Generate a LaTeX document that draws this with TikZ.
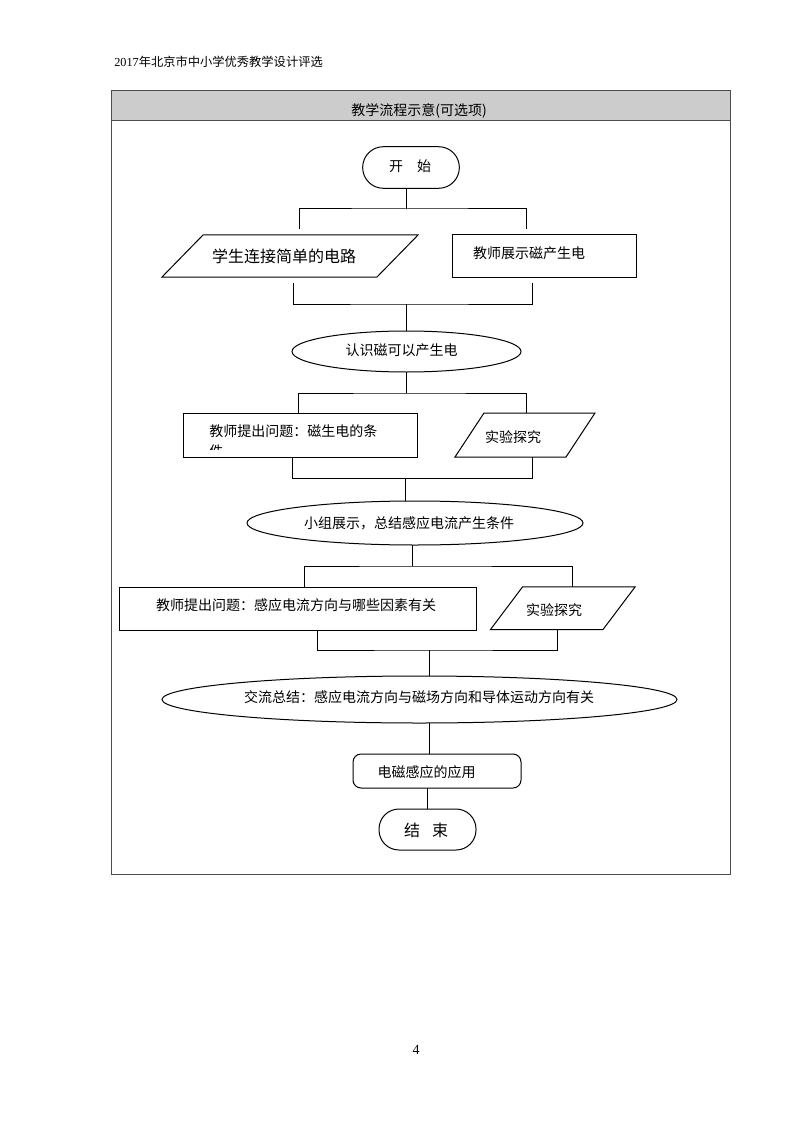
\documentclass[tikz,border=0pt]{standalone}
\usepackage{fontspec}
\setmainfont{Noto Sans CJK SC}
\newfontfamily\latin{Liberation Serif}
\usetikzlibrary{calc,shapes.geometric}
\tikzset{
  ln/.style={draw=black, line width=0.75pt},
  frm/.style={draw=black!70, line width=0.75pt},
  shp/.style={inner sep=0pt, outer sep=0pt},
  rbox/.style={shp, rectangle, draw=black, line width=0.75pt},
  ebox/.style={shp, ellipse, draw=black, line width=0.75pt},
  pbox/.style={shp, rectangle},
  txt/.style={inner sep=0pt, font=\fontsize{10.5pt}{12pt}\selectfont},
  bigtxt/.style={inner sep=0pt, font=\fontsize{12pt}{14pt}\selectfont},
}
\begin{document}
\begin{tikzpicture}[x=0.75pt, y=-0.75pt]
\useasboundingbox (0,0) rectangle (794,1123);

% page header and number
\node[inner sep=0pt, anchor=west, font=\fontsize{9.2pt}{11pt}\selectfont] (hdr) at (114,62) {{\latin 2017}年北京市中小学优秀教学设计评选};
\node[inner sep=0pt, font=\fontsize{10.5pt}{12pt}\selectfont\latin] (pg) at (416,1050) {4};

% frame and title bar
\fill[black!20] (111,91) rectangle (730,121);
\draw[frm] (111,91) rectangle (730,874);
\draw[frm] (111,121) -- (730,121);
\node[txt] (title) at (419,110.5) {教学流程示意(可选项)};

% shapes
\node[rbox, rounded corners=15.5pt, minimum width=72.5pt, minimum height=31.2pt] (start) at (411,167.5) {};
\node[txt] (tstart) at (410,166.5) {开　始};

\node[pbox, minimum width=192pt, minimum height=31.5pt] (p1) at (290,256) {};
\draw[ln] ([xshift=30.75pt]p1.north west) -- (p1.north east) -- ([xshift=-30.75pt]p1.south east) -- (p1.south west) -- cycle;
\node[bigtxt] (tp1) at (284,256) {学生连接简单的电路};

\node[rbox, minimum width=138pt, minimum height=31.5pt] (r1) at (544,256) {};
\node[txt] (tr1) at (529,253.5) {教师展示磁产生电};

\node[ebox, minimum width=171.75pt, minimum height=30.75pt] (e1) at (406.5,351.5) {};
\node[txt] (te1) at (401.5,350.5) {认识磁可以产生电};

\node[rbox, minimum width=175.5pt, minimum height=33pt] (r2) at (300,435) {};
\node[txt, anchor=west] (tr2) at (209,431) {教师提出问题：磁生电的条};
\begin{scope}
  \clip (185,441) rectangle (415,449);
  \node[txt, anchor=west] (tr2b) at (209,451) {件};
\end{scope}

\node[pbox, minimum width=105pt, minimum height=33pt] (p2) at (525,435) {};
\draw[ln] ([xshift=21.75pt]p2.north west) -- (p2.north east) -- ([xshift=-21.75pt]p2.south east) -- (p2.south west) -- cycle;
\node[txt] (tp2) at (513,437.5) {实验探究};

\node[ebox, minimum width=252pt, minimum height=33pt] (e2) at (415,523) {};
\node[txt] (te2) at (409,523.3) {小组展示，总结感应电流产生条件};

\node[rbox, minimum width=267.75pt, minimum height=32.25pt] (r3) at (297.5,608.5) {};
\node[txt] (tr3) at (296,605.5) {教师提出问题：感应电流方向与哪些因素有关};

\node[pbox, minimum width=108.4pt, minimum height=31.9pt] (p3) at (562.75,608.25) {};
\draw[ln] ([xshift=24pt]p3.north west) -- (p3.north east) -- ([xshift=-24pt]p3.south east) -- (p3.south west) -- cycle;
\node[txt] (tp3) at (554,610) {实验探究};

\node[ebox, minimum width=386.25pt, minimum height=35.25pt] (e3) at (419.5,699.5) {};
\node[txt] (te3) at (419,697.5) {交流总结：感应电流方向与磁场方向和导体运动方向有关};

\node[rbox, rounded corners=6pt, minimum width=126pt, minimum height=25.5pt] (r4) at (437,771) {};
\node[txt] (tr4) at (426.5,772.5) {电磁感应的应用};

\node[rbox, rounded corners=15pt, minimum width=72.75pt, minimum height=30.75pt] (end) at (427.5,829.5) {};
\node[bigtxt] (tend) at (426,830) {结\hspace{9pt}束};

% connectors
\coordinate (j1) at (406.5,209);
\coordinate (s1l) at (299,229);
\coordinate (s1r) at (526.5,229);
\draw[ln] (start.south -| j1) -- (j1);
\draw[ln] (s1l) |- (j1) -| (s1r);

\coordinate (j2) at (406,304);
\coordinate (m1l) at (293,283);
\coordinate (m1r) at (532,283);
\draw[ln] (m1l) |- (j2) -| (m1r);
\draw[ln] (j2) -- (j2 |- e1.north);

\coordinate (j3) at (406.5,393);
\coordinate (s2l) at (298.3,413);
\coordinate (s2r) at (526.7,413);
\draw[ln] (e1.south -| j3) -- (j3);
\draw[ln] (s2l) |- (j3) -| (s2r);

\coordinate (j4) at (405.7,478.3);
\coordinate (m2l) at (292.7,457);
\coordinate (m2r) at (532.3,457);
\draw[ln] (m2l) |- (j4) -| (m2r);
\draw[ln] (j4) -- (j4 |- e2.north);

\coordinate (j5) at (412.7,566);
\coordinate (s3l) at (304,587);
\coordinate (s3r) at (572.7,587);
\draw[ln] (j5 |- e2.south) -- (j5);
\draw[ln] (s3l) |- (j5) -| (s3r);

\coordinate (j6) at (429.6,650);
\coordinate (m3l) at (317.6,630);
\coordinate (m3r) at (557.6,629.5);
\draw[ln] (m3l) |- (j6) -| (m3r);
\draw[ln] (j6) -- (j6 |- e3.north);

\coordinate (v7) at (429,723);
\draw[ln] (v7) -- (v7 |- r4.north);
\draw[ln] (end.north |- r4.south) -- (end.north);
\end{tikzpicture}
\end{document}
